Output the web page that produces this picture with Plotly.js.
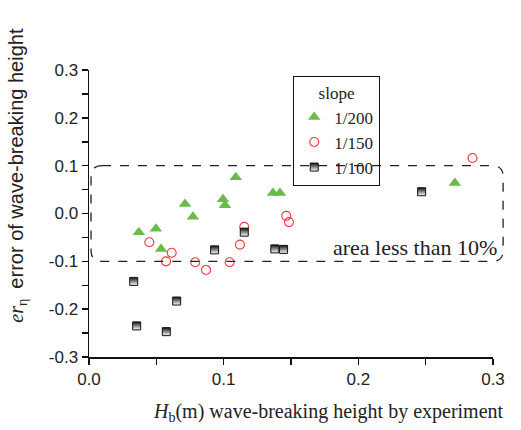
<!DOCTYPE html>
<html><head><meta charset="utf-8">
<script src="https://cdn.plot.ly/plotly-3.0.1.min.js"></script>
<style>body{margin:0;background:#fff}#c{width:521px;height:430px}</style>
</head><body><div id="c"></div>
<script>
// slope 1/200
const hb200 = [0.037, 0.0497, 0.0535, 0.0713, 0.0772, 0.0995, 0.101, 0.109, 0.1366, 0.1418, 0.2717];
const er200 = [-0.039, -0.032, -0.074, 0.020, -0.007, 0.030, 0.017, 0.076, 0.043, 0.043, 0.064];
// slope 1/150
const hb150 = [0.0448, 0.0572, 0.0614, 0.0789, 0.0869, 0.1044, 0.1121, 0.1153, 0.1465, 0.1485, 0.2848];
const er150 = [-0.060, -0.100, -0.082, -0.102, -0.118, -0.102, -0.065, -0.028, -0.005, -0.018, 0.116];
// slope 1/100
const hb100 = [0.0332, 0.0354, 0.0574, 0.0651, 0.0933, 0.1153, 0.138, 0.1445, 0.247];
const er100 = [-0.142, -0.235, -0.247, -0.183, -0.076, -0.039, -0.074, -0.075, 0.0455];
const seriesNames = ['1/200', '1/150', '1/100'];
const xTicks = [0.0, 0.1, 0.2, 0.3];
const yTicks = [-0.3, -0.2, -0.1, 0.0, 0.1, 0.2, 0.3];
const bandLow = -0.1, bandHigh = 0.1;

const serif = 'Liberation Serif, Times New Roman, serif';
const sans = 'Liberation Sans, Arial, sans-serif';

const traces = [
  {x: hb200, y: er200, name: seriesNames[0], type: 'scatter', mode: 'markers',
   marker: {symbol: 'triangle-up', size: 11, color: '#6cbb4a', line: {width: 0}}},
  {x: hb150, y: er150, name: seriesNames[1], type: 'scatter', mode: 'markers',
   marker: {symbol: 'circle-open', size: 9, color: '#ee3a3a', line: {width: 1.1, color: '#ee3a3a'}}},
  {x: hb100, y: er100, name: seriesNames[2], type: 'scatter', mode: 'markers',
   marker: {symbol: 'square', size: 8, color: '#111111', line: {width: 1, color: '#111111'},
            gradient: {type: 'vertical', color: '#ffffff'}}}
];

const yp = v => (v + 0.3) / 0.6;
const x0 = 0.005, x1 = 1.025, y0 = yp(bandLow), y1 = yp(bandHigh);
const rx = 11 / 404, ry = 11 / 287;
const path = `M${x0 + rx},${y1} L${x1 - rx},${y1} Q${x1},${y1} ${x1},${y1 - ry} L${x1},${y0 + ry} Q${x1},${y0} ${x1 - rx},${y0} L${x0 + rx},${y0} Q${x0},${y0} ${x0},${y0 + ry} L${x0},${y1 - ry} Q${x0},${y1} ${x0 + rx},${y1} Z`;

const axisCommon = {
  showgrid: false, zeroline: false, showline: true, linecolor: '#111', linewidth: 1.5,
  ticks: 'outside', ticklen: 6, tickwidth: 1.5, tickcolor: '#111',
  tickfont: {family: sans, size: 17, color: '#222'},
  minor: {dtick: 0.05, ticks: 'outside', ticklen: 6, tickwidth: 1.5, tickcolor: '#111'}
};

const layout = {
  width: 521, height: 430,
  margin: {l: 89, r: 28, t: 70, b: 73},
  paper_bgcolor: '#fff', plot_bgcolor: '#fff',
  showlegend: true,
  xaxis: Object.assign({}, axisCommon, {range: [0, 0.3], tickvals: xTicks, ticktext: xTicks.map(v => v.toFixed(1))}),
  yaxis: Object.assign({}, axisCommon, {range: [-0.3, 0.3], tickvals: yTicks, ticktext: yTicks.map(v => v.toFixed(1))}),
  legend: {x: 0.505, y: 0.979, xanchor: 'left', yanchor: 'top', bgcolor: 'rgba(0,0,0,0)',
           bordercolor: '#111', borderwidth: 1.2, font: {family: serif, size: 17, color: '#222'},
           title: {text: 'slope', side: 'top center', font: {family: serif, size: 17, color: '#222'}},
           tracegroupgap: 0, itemwidth: 30},
  shapes: [{type: 'path', xref: 'paper', yref: 'paper', path: path,
            line: {color: '#222', width: 1.3, dash: 'dash'}, layer: 'above'}],
  annotations: [
    {xref: 'paper', yref: 'paper', x: 0.807, y: 0.38, xanchor: 'center', yanchor: 'middle', showarrow: false,
     text: 'area less than 10%', font: {family: serif, size: 22, color: '#222'}},
    {xref: 'paper', yref: 'paper', x: 0.594, y: -0.192, xanchor: 'center', yanchor: 'middle', showarrow: false,
     text: '<i>H</i><sub>b</sub>(m) wave-breaking height by experiment',
     font: {family: serif, size: 20, color: '#222'}},
    {xref: 'paper', yref: 'paper', x: -0.176, y: 0.635, xanchor: 'center', yanchor: 'middle', showarrow: false, textangle: -90,
     text: '<i>er</i><sub>η</sub>  <span style="font-family:Liberation Sans, Arial, sans-serif">error of wave-breaking height</span>',
     font: {family: serif, size: 20, color: '#222'}}
  ]
};

Plotly.newPlot('c', traces, layout, {displayModeBar: false, staticPlot: true});
</script></body></html>
